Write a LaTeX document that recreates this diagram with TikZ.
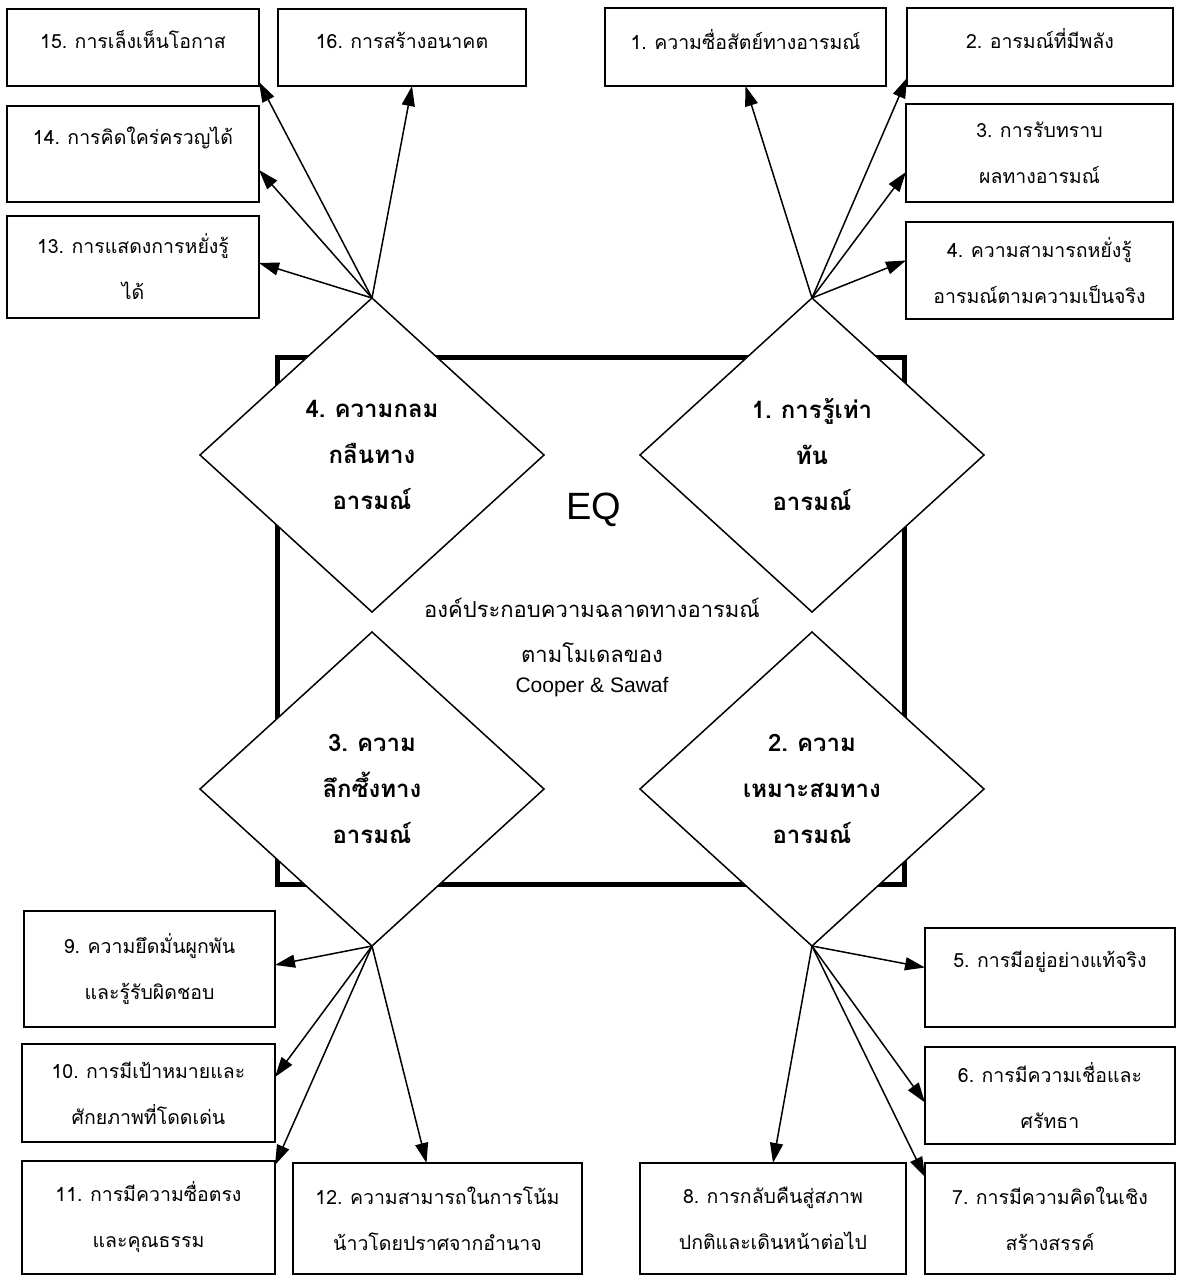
\documentclass[tikz,border=0pt]{standalone}
\usepackage{fontspec}
\setmainfont{Liberation Sans}
\newfontfamily\thaibox[Script=Thai,WordSpace=0.7]{Loma}
\newfontfamily\thaidia[Script=Thai,WordSpace=0.8]{Loma}
\usetikzlibrary{shapes.geometric,arrows.meta,calc}
\begin{document}
\begin{tikzpicture}[x=1pt,y=-1pt,
  box/.style={draw, line width=1.4pt, inner sep=0pt, outer sep=0pt, anchor=north west, align=center,
    font=\thaibox\fontsize{19.5}{46}\selectfont},
  txt/.style={inner sep=0pt, font=\thaibox\fontsize{19.5}{46}\selectfont},
  dia/.style={draw, diamond, fill=white, line width=1.5pt, inner sep=0pt, outer sep=0pt,
    minimum width=344pt, minimum height=314pt, align=center,
    font=\thaidia\bfseries\fontsize{24}{46}\selectfont},
  arr/.style={line width=1.5pt, -{Triangle[length=20pt,width=13pt]}},
  frame/.style={draw, line width=5pt, inner sep=0pt, outer sep=0pt, anchor=north west}]
\useasboundingbox (0,0) rectangle (1176,1277);
\fill[white] (0,0) rectangle (1176,1277);

% central frame
\node[frame, minimum width=627pt, minimum height=527pt] (frame) at (277.5,357.5) {};
\node[font=\fontsize{38}{38}\selectfont, inner sep=0pt] (eq) at (594,510) {EQ};
\node[align=center, inner sep=0pt, font=\thaibox\fontsize{22}{45}\selectfont] (title) at (592,648)
  {องค์ประกอบความฉลาดทางอารมณ์\\ตามโมเดลของ\\[-15pt]{\rmfamily\fontsize{21}{30}\selectfont Cooper \& Sawaf}};

% diamonds
\node[dia] (d4) at (372,455) {4. ความกลม\\กลืนทาง\\อารมณ์};
\node[dia] (d1) at (812,455) {1. การรู้เท่า\\ทัน\\อารมณ์};
\node[dia] (d3) at (372,789) {3. ความ\\ลึกซึ้งทาง\\อารมณ์};
\node[dia] (d2) at (812,789) {2. ความ\\เหมาะสมทาง\\อารมณ์};

% boxes top-left
\node[box, minimum width=252pt, minimum height=77pt] (b15) at (7,9) {};
\node[txt] (t15) at ($(b15.north)+(0,31)$) {15. การเล็งเห็นโอกาส};
\node[box, minimum width=248pt, minimum height=77pt] (b16) at (278,9) {};
\node[txt] (t16) at ($(b16.north)+(0,31)$) {16. การสร้างอนาคต};
\node[box, minimum width=252pt, minimum height=96pt] (b14) at (7,106) {};
\node[txt] (t14) at ($(b14.north)+(0,32)$) {14. การคิดใคร่ครวญได้};
\node[box, minimum width=252pt, minimum height=102pt] (b13) at (7,216) {13. การแสดงการหยั่งรู้\\ได้};

% boxes top-right
\node[box, minimum width=281pt, minimum height=78pt] (b1) at (605,8) {};
\node[txt] (t1) at ($(b1.north)+(0,32)$) {1. ความซื่อสัตย์ทางอารมณ์};
\node[box, minimum width=266pt, minimum height=78pt] (b2) at (907,8) {};
\node[txt] (t2) at ($(b2.north)+(0,31)$) {2. อารมณ์ที่มีพลัง};
\node[box, minimum width=267pt, minimum height=98pt] (b3) at (906,104) {3. การรับทราบ\\ผลทางอารมณ์};
\node[box, minimum width=267pt, minimum height=97pt] (b4) at (906,222) {4. ความสามารถหยั่งรู้\\อารมณ์ตามความเป็นจริง};

% boxes bottom-left
\node[box, minimum width=251pt, minimum height=116pt] (b9) at (24,911) {9. ความยึดมั่นผูกพัน\\และรู้รับผิดชอบ};
\node[box, minimum width=253pt, minimum height=98pt] (b10) at (22,1044) {10. การมีเป้าหมายและ\\ศักยภาพที่โดดเด่น};
\node[box, minimum width=253pt, minimum height=113pt] (b11) at (22,1161) {11. การมีความซื่อตรง\\และคุณธรรม};
\node[box, minimum width=289pt, minimum height=111pt] (b12) at (293,1163) {12. ความสามารถในการโน้ม\\น้าวโดยปราศจากอำนาจ};

% boxes bottom-right
\node[box, minimum width=250pt, minimum height=99pt] (b5) at (925,928) {};
\node[txt] (t5) at ($(b5.north)+(0,34)$) {5. การมีอยู่อย่างแท้จริง};
\node[box, minimum width=250pt, minimum height=97pt] (b6) at (925,1047) {6. การมีความเชื่อและ\\ศรัทธา};
\node[box, minimum width=250pt, minimum height=111pt] (b7) at (925,1163) {7. การมีความคิดในเชิง\\สร้างสรรค์};
\node[box, minimum width=266pt, minimum height=111pt] (b8) at (640,1163) {8. การกลับคืนสู่สภาพ\\ปกติและเดินหน้าต่อไป};

% connectors
\draw[arr] (d4.north) -- ([yshift=4pt]b15.south east);
\draw[arr] (d4.north) -- ([xshift=10pt]b16.south);
\draw[arr] (d4.north) -- ([yshift=-16pt]b14.east);
\draw[arr] (d4.north) -- ([yshift=4pt]b13.east);

\draw[arr] (d1.north) -- (b1.south);
\draw[arr] (d1.north) -- ([yshift=8pt]b2.south west);
\draw[arr] (d1.north) -- ([yshift=-19pt]b3.west);
\draw[arr] (d1.north) -- ([yshift=10pt]b4.west);

\draw[arr] (d3.south) -- ([yshift=4pt]b9.east);
\draw[arr] (d3.south) -- ([yshift=16pt]b10.east);
\draw[arr] (d3.south) -- ([yshift=-4pt]b11.north east);
\draw[arr] (d3.south) -- ([xshift=-11pt]b12.north);

\draw[arr] (d2.south) -- ([yshift=10pt]b5.west);
\draw[arr] (d2.south) -- ([yshift=-7pt]b6.west);
\draw[arr] (d2.south) -- ([yshift=-14pt]b7.north west);
\draw[arr] (d2.south) -- (b8.north);
\end{tikzpicture}
\end{document}
